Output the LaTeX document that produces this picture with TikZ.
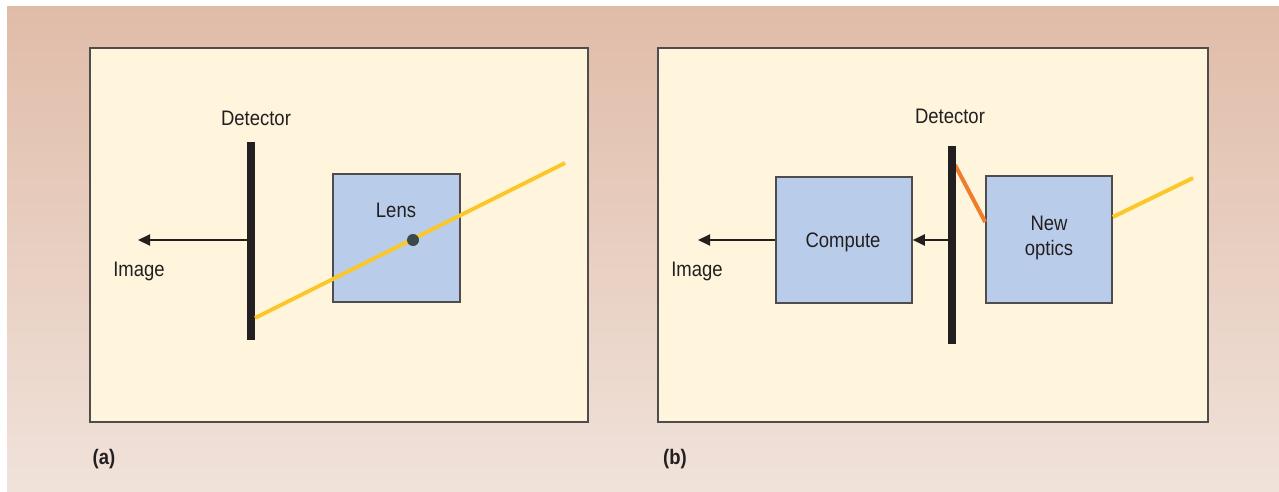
\documentclass[tikz,border=0pt]{standalone}
\usepackage{fontspec}
\setmainfont[FakeStretch=0.88]{Liberation Sans}
\usepackage{tikz}
\usetikzlibrary{positioning,arrows.meta}
\definecolor{bgtop}{RGB}{224,188,168}
\definecolor{bgbot}{RGB}{240,226,218}
\definecolor{panelfill}{RGB}{255,245,220}
\definecolor{boxfill}{RGB}{185,205,234}
\definecolor{bardark}{RGB}{35,31,32}
\definecolor{rayyellow}{RGB}{250,200,40}
\definecolor{rayorange}{RGB}{238,125,44}
\definecolor{dotgrey}{RGB}{60,72,74}
\tikzset{
  panel/.style={draw=bardark!80, line width=0.7pt, fill=panelfill, inner sep=0pt},
  block/.style={draw=bardark!80, line width=0.8pt, fill=boxfill, inner sep=0pt, align=center},
  label/.style={text=bardark, font=\fontsize{10.5}{12.5}\selectfont, inner sep=0pt},
  tag/.style={text=bardark, font=\fontsize{10.5}{12.5}\selectfont\bfseries, inner sep=0pt},
  detector/.style={draw=bardark, line width=4pt},
  ray/.style={draw=rayyellow, line width=2pt},
  arr/.style={draw=bardark, line width=1pt, -{Triangle[length=6pt,width=5.5pt]}}
}
\begin{document}
\begin{tikzpicture}[x=0.5pt, y=-0.5pt]
\useasboundingbox (0,0) rectangle (1279,492);
\shade[top color=bgtop, bottom color=bgbot] (7,7) rectangle (1279,492);
% panel (a)
\node[panel, minimum width=249pt, minimum height=187pt] (panelA) at (339,235) {};
\coordinate (detA_top) at (251,142);
\coordinate (detA_bot) at (251,340);
\draw[detector] (detA_top) -- (detA_bot);
\node[label] (detA_lab) at (256,118) {Detector};
\node[block, minimum width=63.5pt, minimum height=64pt] (lens) at (396.5,238) {};
\node[label] (lens_lab) at (396,210) {Lens};
\coordinate (rayA_start) at (255,318);
\coordinate (rayA_end) at (565,163);
\draw[ray] (rayA_start) -- (rayA_end);
\node[circle, fill=dotgrey, minimum size=6pt, inner sep=0pt] (focus) at (413,240) {};
\coordinate (outA_start) at (249,240);
\coordinate (outA_end) at (138,240);
\draw[arr] (outA_start) -- (outA_end);
\node[label] (imgA) at (139,271) {Image};
\node[tag] (tagA) at (104,459) {(a)};
% panel (b)
\node[panel, minimum width=275pt, minimum height=187pt] (panelB) at (933,235) {};
\coordinate (detB_top) at (952,146);
\coordinate (detB_bot) at (952,344);
\node[block, minimum width=68pt, minimum height=63pt] (compute) at (844,240) {};
\node[label] (compute_lab) at (843,242) {Compute};
\node[block, minimum width=63pt, minimum height=63.5pt] (optics) at (1049,239.5) {};
\node[label, align=center] (optics_lab) at (1049,238) {New\\optics};
\coordinate (rayB_in) at (1193,178);
\coordinate (rayB_out) at (955,165);
\draw[ray] (optics.east |- 0,217) -- (rayB_in);
\draw[draw=rayorange, line width=2pt] (rayB_out) -- (optics.west |- 0,222);
\draw[detector] (detB_top) -- (detB_bot);
\node[label] (detB_lab) at (950,116) {Detector};
\coordinate (outB_start) at (950,240);
\draw[arr] (outB_start) -- (compute.east |- outB_start);
\coordinate (outB_end) at (698,240);
\draw[arr] (compute.west |- outB_end) -- (outB_end);
\node[label] (imgB) at (697,271) {Image};
\node[tag] (tagB) at (675,459) {(b)};
\end{tikzpicture}
\end{document}
